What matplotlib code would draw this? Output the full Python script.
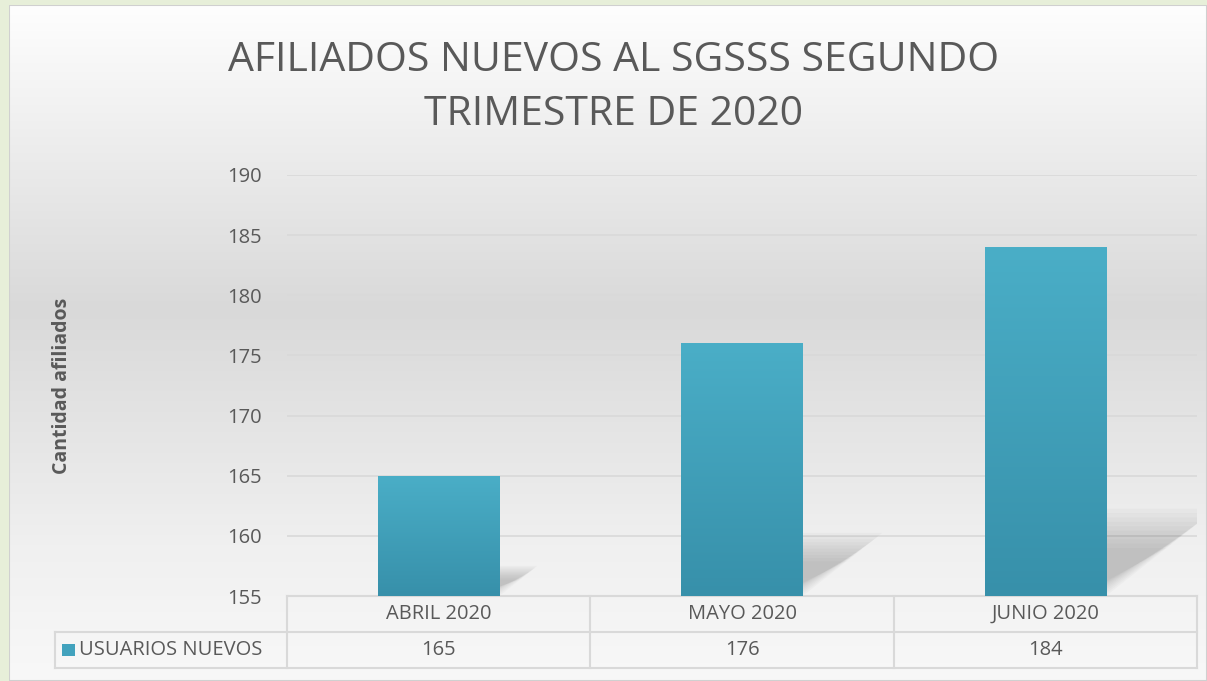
import numpy as np
import matplotlib
matplotlib.use('Agg')
import matplotlib.pyplot as plt
from matplotlib.patches import Polygon, Rectangle
from matplotlib.colors import LinearSegmentedColormap

# data
meses = ['ABRIL 2020', 'MAYO 2020', 'JUNIO 2020']
usuarios_nuevos = [165, 176, 184]
serie = 'USUARIOS NUEVOS'
titulo = 'AFILIADOS NUEVOS AL SGSSS SEGUNDO\nTRIMESTRE DE 2020'
ylabel = 'Cantidad afiliados'
y_min, y_max, y_step = 155, 190, 5

plt.rcParams['font.family'] = ['Open Sans', 'DejaVu Sans']
gris_txt = '#595959'
gris_lin = '#d9d9d9'

W, H = 1207, 681
fig = plt.figure(figsize=(W / 100, H / 100), dpi=100)
fig.patch.set_facecolor('#e7efd9')

# chart area background with vertical gradient
bg = fig.add_axes([9 / W, 0, 1 - 9 / W, 1 - 5 / H])
bg.set_axis_off()
bg_cmap = LinearSegmentedColormap.from_list('bg', [(0, '#fefefe'), (0.45, '#d9d9d9'), (0.8, '#f0f0f0'), (1, '#f8f8f8')])
bg.imshow(np.linspace(0, 1, 256)[:, None], aspect='auto', cmap=bg_cmap, extent=[0, 1, 0, 1])
bg.add_patch(Rectangle((0, 0), 1, 1, transform=bg.transAxes, fill=False, ec='#d0d0d0', lw=1.5))
bg.set_xlim(0, 1); bg.set_ylim(0, 1)

left, right, top, bottom = 287 / W, 1197 / W, 1 - 175 / H, 1 - 596 / H
ax = fig.add_axes([left, bottom, right - left, top - bottom])
ax.set_facecolor('none')
x = np.arange(len(meses))
ancho = 0.4

# perspective shadows (soft, several stacked layers)
for xi, v in zip(x, usuarios_nuevos):
    h = (v - y_min) * 0.25
    dx = h * 0.05
    for k in range(10):
        s = 1 - k * 0.05
        poly = Polygon([(xi - ancho / 2, y_min), (xi + ancho / 2 - 0.01 * k, y_min),
                        (xi + ancho / 2 + dx * s, y_min + h * s), (xi - ancho / 2 + dx * s, y_min + h * s)],
                       closed=True, fc='#6a6a6a', ec='none', alpha=0.04, zorder=1)
        ax.add_patch(poly)

bars = ax.bar(x, usuarios_nuevos, width=ancho, bottom=0, color='#42a2bd', zorder=3)
bar_cmap = LinearSegmentedColormap.from_list('bar', ['#3790aa', '#4aaec7'])
for b in bars:
    im = ax.imshow(np.linspace(0, 1, 128)[:, None], aspect='auto', cmap=bar_cmap, origin='lower',
                   extent=[b.get_x(), b.get_x() + b.get_width(), y_min, b.get_height()], zorder=4)
    im.set_clip_path(b)
ax.set_aspect('auto')
ax.set_xlim(-0.5, len(meses) - 0.5)
ax.set_ylim(y_min, y_max)

ax.set_yticks(np.arange(y_min, y_max + 1, y_step))
ax.yaxis.grid(True, color=gris_lin, lw=1.2, zorder=0)
ax.set_axisbelow(True)
ax.set_xticks([])
ax.tick_params(axis='y', length=0, pad=18, labelsize=14.5, labelcolor=gris_txt)
for s in ax.spines.values():
    s.set_visible(False)

fig.text(9 / W + (1 - 9 / W) / 2 + 0.005, 1 - 88 / H, titulo, ha='center', va='center',
         fontsize=29.5, color=gris_txt, linespacing=1.45)
fig.text(62 / W, 1 - 386 / H, ylabel, rotation=90, ha='center', va='center',
         fontsize=14, fontweight='bold', color=gris_txt)

# data table under the axis
ph = 421.0
r1, r2 = -36 / ph, -72 / ph
xl = (55 - 287) / 910.0
tr = ax.transAxes
lk = dict(color=gris_lin, lw=1.5, transform=tr, clip_on=False)
ax.plot([0, 1], [0, 0], **lk)
ax.plot([xl, 1], [r1, r1], **lk)
ax.plot([xl, 1], [r2, r2], **lk)
ax.plot([xl, xl], [r1, r2], **lk)
for i in range(len(meses) + 1):
    ax.plot([i / 3, i / 3], [0, r2], **lk)
for i, (m, v) in enumerate(zip(meses, usuarios_nuevos)):
    ax.text((i + 0.5) / 3, r1 / 2, m, transform=tr, ha='center', va='center', fontsize=14.5, color=gris_txt)
    ax.text((i + 0.5) / 3, (r1 + r2) / 2, str(v), transform=tr, ha='center', va='center', fontsize=14.5, color=gris_txt)
ax.add_patch(Rectangle((xl + 7 / 910, (r1 + r2) / 2 - 6 / ph), 13 / 910, 12 / ph, transform=tr,
                       fc='#42a2bd', ec='none', clip_on=False))
ax.text(xl + 24 / 910, (r1 + r2) / 2, serie, transform=tr, ha='left', va='center', fontsize=14.5, color=gris_txt)

fig.savefig('out.png', dpi=100)
